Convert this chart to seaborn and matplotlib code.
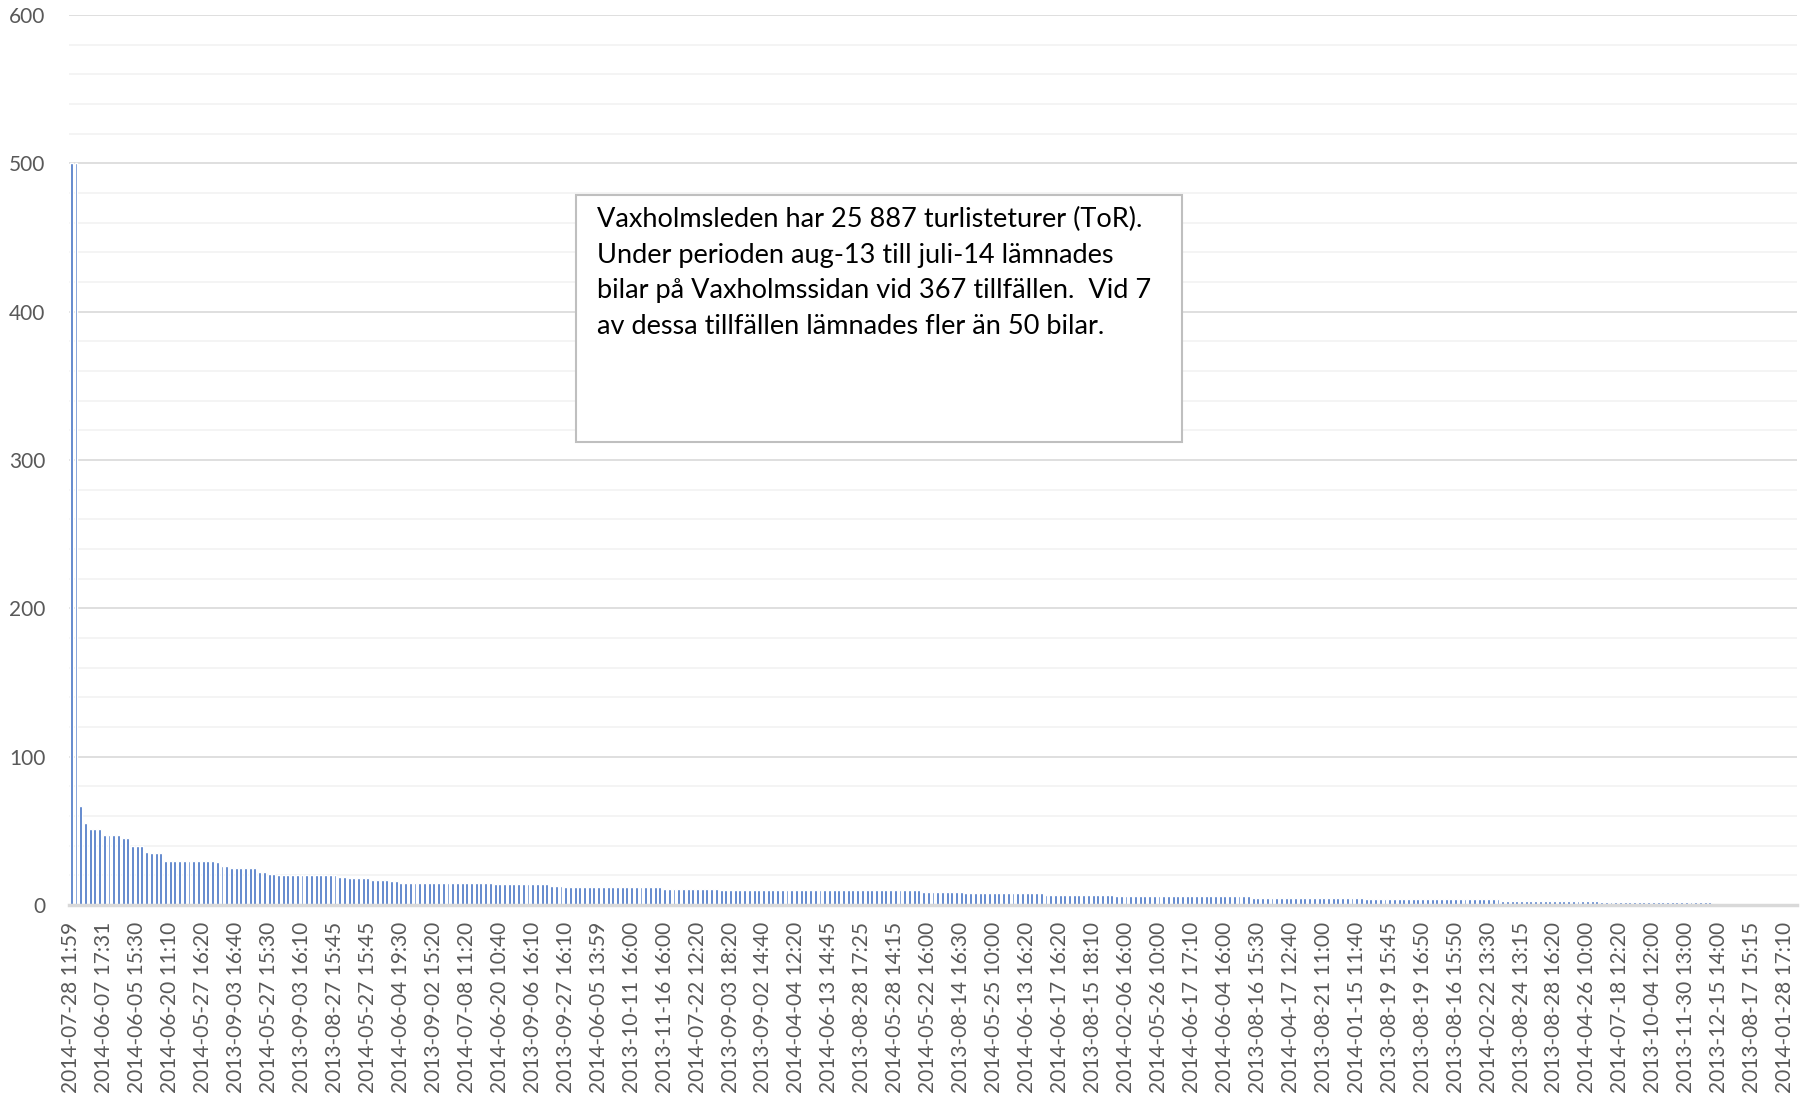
import numpy as np
import matplotlib.pyplot as plt
import seaborn as sns
import pandas as pd
from matplotlib.ticker import MultipleLocator
from matplotlib.patches import Rectangle

#%% data (cars left per trip, sorted descending)
# each level is repeated 'counts' times, in bar order
levels = [500, 67, 55, 51, 47, 45, 40, 36, 35, 30, 29, 26, 25, 22, 21, 20, 19, 18,
          17, 16, 15, 14, 13, 12, 11, 10, 9, 8, 7, 6, 5, 4, 3, 2, 1]
counts = [2, 1, 1, 3, 4, 2, 3, 1, 3, 11, 1, 2, 6, 2, 2, 13, 2, 5,
          4, 2, 20, 12, 3, 21, 12, 43, 9, 17, 15, 29, 24, 29, 21, 24, 18]

# every 7th category is labelled on the x axis
tick_labels = [
    '2014-07-28 11:59', '2014-06-07 17:31', '2014-06-05 15:30', '2014-06-20 11:10',
    '2014-05-27 16:20', '2013-09-03 16:40', '2014-05-27 15:30', '2013-09-03 16:10',
    '2013-08-27 15:45', '2014-05-27 15:45', '2014-06-04 19:30', '2013-09-02 15:20',
    '2014-07-08 11:20', '2014-06-20 10:40', '2013-09-06 16:10', '2013-09-27 16:10',
    '2014-06-05 13:59', '2013-10-11 16:00', '2013-11-16 16:00', '2014-07-22 12:20',
    '2013-09-03 18:20', '2013-09-02 14:40', '2014-04-04 12:20', '2014-06-13 14:45',
    '2013-08-28 17:25', '2014-05-28 14:15', '2014-05-22 16:00', '2013-08-14 16:30',
    '2014-05-25 10:00', '2014-06-13 16:20', '2014-06-17 16:20', '2013-08-15 18:10',
    '2014-02-06 16:00', '2014-05-26 10:00', '2014-06-17 17:10', '2014-06-04 16:00',
    '2013-08-16 15:30', '2014-04-17 12:40', '2013-08-21 11:00', '2014-01-15 11:40',
    '2013-08-19 15:45', '2013-08-19 16:50', '2013-08-16 15:50', '2014-02-22 13:30',
    '2013-08-24 13:15', '2013-08-28 16:20', '2014-04-26 10:00', '2014-07-18 12:20',
    '2013-10-04 12:00', '2013-11-30 13:00', '2013-12-15 14:00', '2013-08-17 15:15',
    '2014-01-28 17:10']
LABEL_STEP = 7

note = ('Vaxholmsleden har 25 887 turlisteturer (ToR).\n'
        'Under perioden aug-13 till juli-14 lämnades\n'
        'bilar på Vaxholmssidan vid 367 tillfällen.  Vid 7\n'
        'av dessa tillfällen lämnades fler än 50 bilar.')

values = np.repeat(levels, counts)
df = pd.DataFrame({'pos': np.arange(len(values)), 'bilar': values})

#%% plot
sns.set_style('white')
plt.rcParams['font.family'] = ['Lato', 'DejaVu Sans']

fig = plt.figure(figsize=(18.1, 10.97), dpi=100)
ax = fig.add_axes([0.0381, 0.175, 0.9547, 0.8113])

sns.barplot(data=df, x='pos', y='bilar', color='#4472C4', saturation=1,
            width=0.62, errorbar=None, ax=ax)

ax.set_xlim(-0.5, len(values) - 0.5)
ax.set_ylim(0, 600)
ax.yaxis.set_major_locator(MultipleLocator(100))
ax.yaxis.set_minor_locator(MultipleLocator(20))
ax.set_axisbelow(True)
ax.grid(axis='y', which='major', color='#D9D9D9', lw=1.2)
ax.grid(axis='y', which='minor', color='#F2F2F2', lw=1.2)
ax.grid(axis='x', visible=False)

ax.set_xticks(range(0, len(values), LABEL_STEP))
ax.set_xticklabels(tick_labels, rotation=90)
ax.tick_params(axis='both', which='both', length=0, labelsize=15, labelcolor='#595959')
ax.tick_params(axis='y', pad=17)
ax.tick_params(axis='x', pad=12)
ax.set_xlabel('')
ax.set_ylabel('')

for s in ['top', 'right', 'left']:
    ax.spines[s].set_visible(False)
ax.spines['bottom'].set_color('#D9D9D9')
ax.spines['bottom'].set_linewidth(2.5)

# note box
fig.patches.append(Rectangle((0.3182, 0.5971), 0.3348, 0.2252, transform=fig.transFigure,
                             facecolor='white', edgecolor='#BFBFBF', lw=1.5, zorder=5))
fig.text(0.3298, 0.811, note, fontsize=19.5, color='black', va='top', ha='left',
         linespacing=1.52, zorder=6)

fig.savefig('out.png', dpi=100)
